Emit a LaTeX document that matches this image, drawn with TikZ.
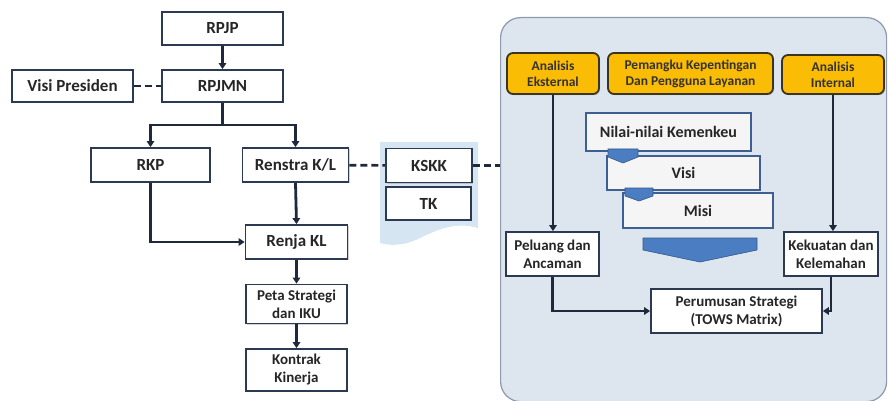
\documentclass[tikz,border=0pt]{standalone}
\usepackage{fontspec}
\setmainfont{Carlito}
\usetikzlibrary{arrows.meta,shadows,positioning}
\definecolor{navy}{HTML}{2B3A52}
\definecolor{linec}{HTML}{1E2A3C}
\definecolor{panelfill}{HTML}{DDE5EF}
\definecolor{panelline}{HTML}{8C9AAC}
\definecolor{gold}{HTML}{FBBC05}
\definecolor{goldline}{HTML}{3A3420}
\definecolor{docfill}{HTML}{D5E5F1}
\definecolor{vmfill}{HTML}{F5F5F5}
\definecolor{vmline}{HTML}{3E5F93}
\definecolor{chev}{HTML}{4A7DC2}
\tikzset{
  box/.style={draw=navy, line width=1.8pt, fill=white, inner sep=1pt, align=center,
    font=\bfseries\fontsize{17}{18}\selectfont, text=black!85,
    drop shadow={shadow xshift=1.2pt, shadow yshift=-1.2pt, opacity=0.35}},
  small/.style={font=\bfseries\fontsize{15}{18}\selectfont},
  orange/.style={draw=goldline, line width=1.8pt, fill=gold, rounded corners=6pt, align=center,
    font=\bfseries\fontsize{13.5}{16}\selectfont, text=black!80, inner sep=1pt,
    drop shadow={shadow xshift=1.2pt, shadow yshift=-1.2pt, opacity=0.35}},
  vm/.style={draw=vmline, line width=1.8pt, fill=vmfill, align=center, inner sep=1pt,
    font=\bfseries\fontsize{16}{18}\selectfont, text=black!85,
    drop shadow={shadow xshift=1.2pt, shadow yshift=-1.2pt, opacity=0.35}},
  conn/.style={draw=linec, line width=2.8pt, -{Triangle[length=6pt,width=7.5pt]}},
  dashline/.style={draw=linec, line width=2.6pt, dash pattern=on 7pt off 4pt},
  chevron/.style={fill=chev, draw=chev!70!black, line width=0.6pt},
}
\begin{document}
\begin{tikzpicture}[x=1pt,y=-1pt]
\useasboundingbox (0,0) rectangle (889,401);
% right panel
\node[draw=panelline, line width=1.2pt, fill=panelfill, rounded corners=20pt,
  minimum width=386pt, minimum height=384pt, anchor=north west, inner sep=0pt] (panel) at (500,17) {};
% document shape behind KSKK/TK
\fill[docfill] (380,142) -- (478,142) -- (478,228)
  .. controls (458,222) and (440,228) .. (420,238)
  .. controls (404,246) and (390,246) .. (380,243) -- cycle;
% left boxes
\node[box, minimum width=121pt, minimum height=33pt] (rpjp) at (222.5,28.5) {RPJP};
\node[box, minimum width=121pt, minimum height=32pt] (rpjmn) at (222.5,86) {RPJMN};
\node[box, minimum width=121pt, minimum height=32pt] (visi) at (72.5,86) {Visi Presiden};
\node[box, minimum width=119pt, minimum height=34pt] (rkp) at (150.5,165) {RKP};
\node[box, minimum width=106pt, minimum height=34pt] (renstra) at (295.5,165) {Renstra K/L};
\node[box, minimum width=86pt, minimum height=34pt] (kskk) at (429,165.5) {KSKK};
\node[box, minimum width=85pt, minimum height=33pt] (tk) at (428.5,203.5) {TK};
\node[box, minimum width=102pt, minimum height=34pt] (renja) at (296.5,242) {Renja KL};
\node[box, small, minimum width=101pt, minimum height=39pt] (peta) at (296.5,304) {Peta Strategi\\dan IKU};
\node[box, small, minimum width=101pt, minimum height=42pt] (kontrak) at (296.5,370) {Kontrak\\Kinerja};
% left connectors
\draw[conn] (rpjp) -- (rpjmn);
\draw[dashline] (visi) -- (rpjmn);
\coordinate (split) at (222.5,125);
\draw[draw=linec, line width=2.8pt] (rpjmn.south) -- (split);
\draw[conn] (split) -| (rkp.north);
\draw[conn] (split) -| (renstra.north);
\draw[dashline] (renstra) -- (kskk);
\draw[dashline] (kskk.east) -- (kskk.east -| panel.west);
\draw[conn] (rkp.south) |- (renja.west);
\draw[conn] (renstra.south) -- (renja.north);
\draw[conn] (renja) -- (peta);
\draw[conn] (peta) -- (kontrak);
% right panel content
\node[orange, minimum width=92pt, minimum height=41pt] (ekst) at (553,73.5) {Analisis\\Eksternal};
\node[orange, minimum width=165pt, minimum height=41pt] (pem) at (690.5,73.5) {Pemangku Kepentingan\\Dan Pengguna Layanan};
\node[orange, minimum width=102pt, minimum height=39pt] (inter) at (833,74.5) {Analisis\\Internal};
\node[vm, minimum width=165pt, minimum height=38pt] (nilai) at (668.5,132) {Nilai-nilai Kemenkeu};
\node[vm, minimum width=153pt, minimum height=34pt] (visi2) at (683.5,173) {Visi};
\node[vm, minimum width=150pt, minimum height=35pt] (misi) at (698,210.5) {Misi};
\filldraw[chevron] (608,149) -- (638,149) -- (638,157) -- (623,163) -- (608,157) -- cycle;
\filldraw[chevron] (625,188) -- (653,188) -- (653,196) -- (639,201) -- (625,196) -- cycle;
\filldraw[chevron] (643,238) -- (757,238) -- (757,250) -- (700,262) -- (643,250) -- cycle;
\node[box, small, minimum width=93pt, minimum height=44pt] (peluang) at (552.5,254) {Peluang dan\\Ancaman};
\node[box, small, minimum width=94pt, minimum height=44pt] (kekuatan) at (831,254) {Kekuatan dan\\Kelemahan};
\node[box, small, minimum width=171pt, minimum height=44pt] (rumus) at (736.5,311) {Perumusan Strategi\\(TOWS Matrix)};
\draw[conn, line width=2.3pt] (ekst.south) -- (ekst.south |- peluang.north);
\draw[conn, line width=2.3pt] (inter.south) -- (inter.south |- kekuatan.north);
\draw[conn, line width=2.3pt] (peluang.south) |- (rumus.west);
\draw[conn, line width=2.3pt] (kekuatan.south) |- (rumus.east);
\end{tikzpicture}
\end{document}
